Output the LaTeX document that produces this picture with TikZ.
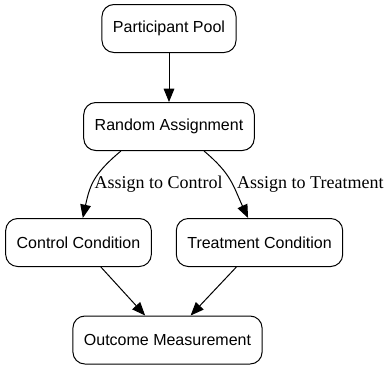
\documentclass[tikz,border=0pt]{standalone}
\usepackage{fontspec}
\setmainfont{Liberation Serif}
\setsansfont{Liberation Sans}
\usetikzlibrary{arrows.meta}

\begin{document}
\begin{tikzpicture}[x=0.75pt,y=0.75pt]

\tikzset{box/.style = {shape=rectangle,rounded corners=9pt,draw,line width=0.75pt,minimum height=36pt,inner xsep=8.25pt,font=\sffamily\fontsize{12}{14}\selectfont}}
\tikzset{edge/.style = {-{Triangle[length=10pt,width=8pt]},line width=0.75pt}}
\tikzset{elabel/.style = {font=\fontsize{13.5}{16}\selectfont,inner sep=1pt}}

\useasboundingbox (0,0) rectangle (392,-369);

%boxes
\node[box] (pool) at (169,-28.5) {Participant Pool};
\node[box] (rand) at (169,-126.5) {Random Assignment};
\node[box] (ctrl) at (78.5,-242.5) {Control Condition};
\node[box] (trt) at (259.5,-242.5) {Treatment Condition};
\node[box] (outcome) at (167.5,-340) {Outcome Measurement};

%edges
\draw[edge] (pool) -- (rand);
\draw[edge] (rand.-153) to[out=-140,in=78,looseness=1.15] node[elabel,right,pos=0.56] (lblctrl) {Assign to Control} (ctrl.80);
\draw[edge] (rand.-35) to[out=-40,in=115,looseness=1.15] node[elabel,right=2pt,pos=0.56] (lbltrt) {Assign to Treatment} (trt.115);
\draw[edge] (ctrl) -- (outcome);
\draw[edge] (trt) -- (outcome);

\end{tikzpicture}
\end{document}
